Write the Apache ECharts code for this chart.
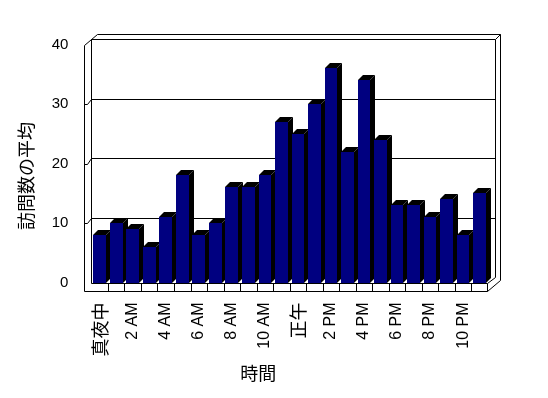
<!DOCTYPE html>
<html>
<head>
<meta charset="utf-8">
<script src="https://cdn.jsdelivr.net/npm/echarts@6/dist/echarts.min.js"></script>
<style>
  html, body { margin: 0; background: #fff; }
  #chart { width: 548px; height: 398px; }
</style>
</head>
<body>
<div id="chart"></div>
<script>
// 24 hourly categories, every other one gets a label
const hours = [
  "真夜中", "1 AM", "2 AM", "3 AM", "4 AM", "5 AM", "6 AM", "7 AM",
  "8 AM", "9 AM", "10 AM", "11 AM", "正午", "1 PM", "2 PM", "3 PM",
  "4 PM", "5 PM", "6 PM", "7 PM", "8 PM", "9 PM", "10 PM", "11 PM",
];
const visits = [8, 10, 9, 6, 11, 18, 8, 10, 16, 16, 18, 27, 25, 30, 36, 22, 34, 24, 13, 13, 11, 14, 8, 15];
const wallLines = [10, 20, 30];

const font = "'Liberation Sans', 'Noto Sans CJK JP', sans-serif";
const px = (v) => Math.round(v) + 0.5;

// the 3d box: outer frame, back wall, left wall, floor
function renderFrame(params, api) {
  const bw = api.size([1, 0])[0];
  const c0 = api.coord([0, 0]);
  const cN = api.coord([hours.length - 1, 40]);
  const L = c0[0] - bw / 2;
  const R = cN[0] + bw / 2;
  const y0 = c0[1];
  const yt = cN[1];
  const fl = L - 7.5;
  const fr = R - 0.5;
  const fb = y0 + 8.5;
  const wx = 7.5, wy = -5.5; // wall face depth
  const dx = 13, dy = -11; // full depth
  const line = (pts) => ({
    type: "polyline",
    shape: { points: pts.map(([x, y]) => [px(x), px(y)]) },
    style: { stroke: "#000", lineWidth: 1, fill: null },
  });
  const kids = [
    line([[fl, fb], [fl, yt], [fl + dx, yt + dy], [fr + dx, yt + dy], [fr + dx, fb + dy], [fr, fb], [fl, fb]]),
    line([[fl + wx, y0], [fl + wx, yt + wy], [fr + wx, yt + wy], [fr + wx, y0 + wy], [fr, y0]]),
    line([[fr + wx, yt + wy], [fr + dx, yt + dy]]),
    line([[fl + wx, y0], [fr, y0], [fr, fb]]),
  ];
  for (let k = 1; k < hours.length; k++) {
    const x = L + k * bw;
    kids.push(line([[x, y0], [x, fb]]));
  }
  for (const v of wallLines) {
    const y = api.coord([0, v])[1];
    kids.push(line([[fl, y], [fl + 3, y], [fl + wx, y + wy], [fr + wx, y + wy]]));
  }
  return { type: "group", children: kids };
}

function renderBar(params, api) {
  const i = api.value(0);
  const v = api.value(1);
  const base = api.coord([i, 0]);
  const top = api.coord([i, v]);
  const w = api.size([1, 0])[0] * 0.77;
  const x0 = Math.round(base[0] - w / 2);
  const x1 = Math.round(base[0] + w / 2);
  const y0 = Math.round(base[1]);
  const y1 = Math.round(top[1]);
  const d = 5;
  return {
    type: "group",
    children: [
      {
        type: "polygon",
        shape: { points: [[x1, y1], [x1 + d, y1 - d], [x1 + d, y0 - d], [x1, y0]] },
        style: { fill: "#000" },
      },
      {
        type: "polygon",
        shape: { points: [[x0, y1], [x0 + d, y1 - d], [x1 + d, y1 - d], [x1, y1]] },
        style: { fill: "#000" },
      },
      {
        type: "rect",
        shape: { x: x0, y: y1, width: x1 - x0, height: y0 - y1 },
        style: { fill: "#000080" },
      },
    ],
  };
}

const chart = echarts.init(document.getElementById("chart"), null, { renderer: "canvas" });
const option = {
  animation: false,
  backgroundColor: "#fff",
  grid: { left: 91.4, right: 60.1, top: 44.5, bottom: 115.5 },
  xAxis: {
    type: "category",
    data: hours,
    name: "時間",
    nameLocation: "middle",
    nameGap: 84,
    nameTextStyle: { fontFamily: font, fontSize: 18, color: "#000", padding: [0, 63, 0, 0] },
    axisLine: { show: false },
    axisTick: { show: false },
    axisLabel: {
      interval: 1,
      rotate: 90,
      margin: 20,
      color: "#000",
      fontFamily: font,
      fontSize: 16,
      formatter: (v) => (/[A-Z]/.test(v) ? v : "{j|" + v + "}"),
      rich: { j: { fontSize: 18, fontFamily: "'Noto Sans CJK JP'", color: "#000" } },
    },
  },
  yAxis: {
    type: "value",
    min: 0,
    max: 40,
    interval: 10,
    name: "訪問数の平均",
    nameLocation: "middle",
    nameGap: 56,
    nameTextStyle: { fontFamily: "'Noto Sans CJK JP'", fontSize: 18, color: "#000", padding: [0, 25, 0, 0] },
    axisLine: { show: false },
    axisTick: { show: false },
    splitLine: { show: false },
    axisLabel: { margin: 23, color: "#000", fontFamily: font, fontSize: 15 },
  },
  series: [
    {
      type: "custom",
      name: "frame",
      silent: true,
      clip: false,
      z: 1,
      data: [[0, 0]],
      renderItem: renderFrame,
    },
    {
      type: "custom",
      name: "訪問数の平均",
      clip: false,
      z: 2,
      data: visits.map((v, i) => [i, v]),
      encode: { x: 0, y: 1 },
      renderItem: renderBar,
    },
  ],
};
chart.setOption(option);
</script>
</body>
</html>
